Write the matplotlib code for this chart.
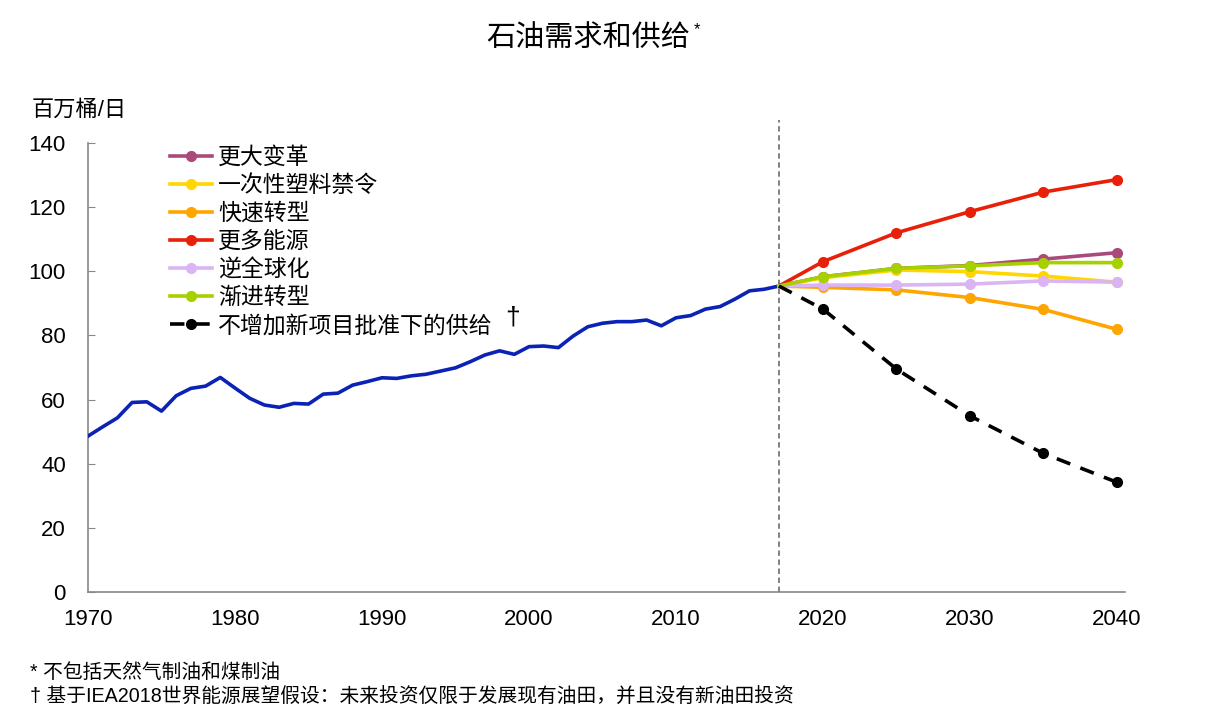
import numpy as np
import matplotlib
matplotlib.use('Agg')
import matplotlib.pyplot as plt

plt.rcParams['font.family'] = ['Liberation Sans', 'Noto Sans CJK SC', 'DejaVu Sans']

# historical oil demand (million barrels per day)
hist_years = list(range(1970, 2018))
hist_values = [48.6, 51.5, 54.3, 59.1, 59.3, 56.4, 61.2, 63.5, 64.2, 66.9,
               63.6, 60.4, 58.3, 57.6, 58.8, 58.6, 61.7, 62.0, 64.5, 65.6,
               66.8, 66.6, 67.4, 67.9, 68.9, 69.9, 71.8, 73.9, 75.2, 74.1,
               76.5, 76.7, 76.2, 79.8, 82.7, 83.8, 84.3, 84.3, 84.8, 83.0,
               85.5, 86.2, 88.2, 89.0, 91.3, 93.9, 94.4, 95.4]

# scenario projections
proj_years = [2017, 2020, 2025, 2030, 2035, 2040]
greater_reform = [95.4, 98.3, 100.9, 101.8, 103.8, 105.8]
plastic_ban = [95.4, 98.0, 100.4, 99.9, 98.5, 96.6]
fast_transition = [95.4, 95.0, 94.2, 91.8, 88.1, 81.9]
more_energy = [95.4, 103.0, 112.0, 118.6, 124.7, 128.6]
deglobalisation = [95.4, 95.7, 95.7, 96.0, 97.0, 96.6]
evolving_transition = [95.4, 98.3, 100.9, 101.7, 102.7, 102.7]
no_new_supply = [95.4, 88.2, 69.5, 54.9, 43.2, 34.2]

labels = ['更大变革', '一次性塑料禁令', '快速转型', '更多能源', '逆全球化', '渐进转型',
          '不增加新项目批准下的供给']
colors = ['#a94a7a', '#ffd600', '#ffa500', '#e8200a', '#dbb4f4', '#a6d000', '#000000']

W, H = 1220, 708
fig = plt.figure(figsize=(W / 100, H / 100), dpi=100)
x0, x1, ytop, ybot = 88, 1125, 143, 592
ax = fig.add_axes([x0 / W, (H - ybot) / H, (x1 - x0) / W, (ybot - ytop) / H])

ax.plot(hist_years, hist_values, color='#0a23b4', lw=2.6, zorder=3)

series = [greater_reform, plastic_ban, fast_transition, more_energy,
          deglobalisation, evolving_transition]
handles = []
for vals, lab, col in zip(series, labels[:-1], colors[:-1]):
    h, = ax.plot(proj_years, vals, color=col, lw=2.6, marker='o', markersize=7,
                 markevery=list(range(1, len(proj_years))), label=lab, zorder=4)
    handles.append(h)
h, = ax.plot(proj_years, no_new_supply, color='black', lw=2.6, ls=(0, (4, 3)),
             marker='o', markersize=7, markevery=list(range(1, len(proj_years))),
             label=labels[-1], zorder=5)
handles.append(h)

ax.axvline(2017, ymin=0, ymax=(ybot - 120) / (ybot - ytop), color='#777777',
           lw=1.3, ls=(0, (3, 2)), clip_on=False, zorder=2)

ax.set_xlim(1970, 1970 + (x1 - x0) / 14.7)
ax.set_ylim(0, 140)
ax.set_xticks(range(1970, 2041, 10))
ax.set_yticks(range(0, 141, 20))
ax.tick_params(axis='x', length=0, pad=12, labelsize=16)
ax.tick_params(axis='y', direction='in', length=5, color='#888888', pad=16, labelsize=16)
for s in ['top', 'right']:
    ax.spines[s].set_visible(False)
for s in ['left', 'bottom']:
    ax.spines[s].set_color('#888888')
    ax.spines[s].set_linewidth(1.2)

leg = ax.legend(handles=handles, loc='upper left', bbox_to_anchor=(170 / W, 1 - 146 / H),
                bbox_transform=fig.transFigure, frameon=False, fontsize=16.5,
                handlelength=1.85, handletextpad=0.25, labelspacing=0.22,
                borderpad=0, borderaxespad=0)
fig.text(505 / W, 1 - 318 / H, '†', fontsize=19, ha='left', va='center')

fig.text(588 / W, 1 - 38 / H, '石油需求和供给', fontsize=21, ha='center', va='center')
fig.text(694 / W, 1 - 30 / H, '*', fontsize=12, ha='left', va='center')
fig.text(32 / W, 1 - 110 / H, '百万桶/日', fontsize=16, ha='left', va='center')

fig.text(30 / W, 1 - 672 / H, '* 不包括天然气制油和煤制油', fontsize=14.2, ha='left', va='center')
fig.text(30 / W, 1 - 697 / H, '† 基于IEA2018世界能源展望假设：未来投资仅限于发展现有油田，并且没有新油田投资',
         fontsize=14.2, ha='left', va='center')

fig.savefig('out.png', dpi=100)
